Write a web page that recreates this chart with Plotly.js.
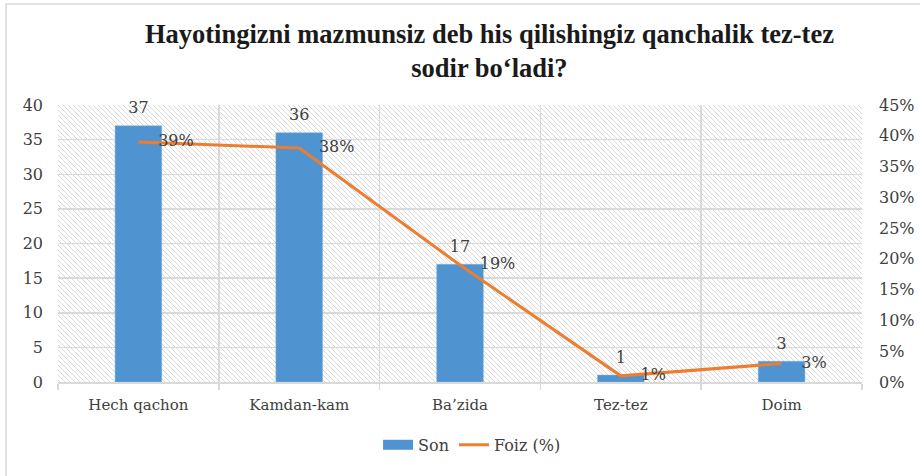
<!DOCTYPE html>
<html>
<head>
<meta charset="utf-8">
<script src="https://cdn.plot.ly/plotly-3.0.1.min.js"></script>
<style>
html,body{margin:0;padding:0;background:#fff;}
#chart{width:920px;height:476px;}
</style>
</head>
<body>
<div id="chart"></div>
<script>
const categories = ["Hech qachon", "Kamdan-kam", "Ba’zida", "Tez-tez", "Doim"];
const sonValues = [37, 36, 17, 1, 3];
const foizValues = [39, 38, 19, 1, 3];
const titleText = "Hayotingizni mazmunsiz deb his qilishingiz qanchalik tez-tez<br>sodir bo‘ladi?";

const plotW = 804, plotH = 277;
const hatchSvg = `<svg xmlns="http://www.w3.org/2000/svg" width="${plotW}" height="${plotH}">
<defs><pattern id="h" patternUnits="userSpaceOnUse" width="5" height="5">
<path d="M0,0 L5,5 M-1,4 L1,6 M4,-1 L6,1" stroke="#d6d6d6" stroke-width="0.9"/>
</pattern></defs>
<rect width="${plotW}" height="${plotH}" fill="#ffffff"/>
<rect width="${plotW}" height="${plotH}" fill="url(#h)"/>
</svg>`;
const hatchUri = "data:image/svg+xml;charset=utf-8," + encodeURIComponent(hatchSvg);

const fontFam = "DejaVu Serif, Liberation Serif, serif";
const barColor = "#4F94D0";
const lineColor = "#ED7D31";

const traces = [
  {
    type: "bar",
    name: "Son",
    x: categories,
    y: sonValues,
    width: 0.29,
    marker: {color: barColor, line: {color: "#7fb0dd", width: 0.5}},
    showlegend: false,
    yaxis: "y"
  },
  {
    type: "scatter",
    mode: "markers+text",
    name: "Son labels",
    x: categories,
    y: sonValues,
    marker: {size: 12, color: "rgba(0,0,0,0)"},
    text: sonValues.map(String),
    textposition: "top center",
    cliponaxis: false,
    textfont: {family: fontFam, size: 16, color: "#404040"},
    showlegend: false,
    hoverinfo: "skip",
    yaxis: "y"
  },
  {
    type: "scatter",
    mode: "lines",
    name: "Son",
    x: [categories[0]],
    y: [null],
    line: {color: barColor, width: 10},
    showlegend: true,
    yaxis: "y"
  },
  {
    type: "scatter",
    mode: "lines+markers+text",
    name: "Foiz (%)",
    x: categories,
    y: foizValues.map(v => v / 100),
    line: {color: lineColor, width: 3},
    marker: {size: 30, color: "rgba(0,0,0,0)"},
    text: foizValues.map(v => v + "%"),
    textposition: "middle right",
    cliponaxis: false,
    textfont: {family: fontFam, size: 16, color: "#404040"},
    yaxis: "y2"
  }
];

const layout = {
  width: 920,
  height: 476,
  margin: {l: 58, r: 58, t: 105, b: 94},
  paper_bgcolor: "#ffffff",
  plot_bgcolor: "rgba(0,0,0,0)",
  font: {family: fontFam, color: "#404040"},
  title: {
    text: titleText,
    font: {family: "Liberation Serif, serif", size: 26.5, color: "#1a1a1a", weight: "bold"},
    x: 0.532, xanchor: "center",
    y: 0.91, yanchor: "top", yref: "container"
  },
  xaxis: {
    type: "category",
    tickson: "boundaries",
    showgrid: true,
    gridcolor: "#d9d9d9",
    gridwidth: 1.5,
    showline: true,
    linecolor: "#d9d9d9",
    linewidth: 1.5,
    ticks: "outside",
    ticklen: 6,
    tickcolor: "#d9d9d9",
    tickwidth: 1.5,
    ticklabelstandoff: 8,
    tickfont: {family: fontFam, size: 15, color: "#404040"},
    zeroline: false,
    fixedrange: true
  },
  yaxis: {
    range: [0, 40],
    dtick: 5,
    showgrid: true,
    gridcolor: "#d9d9d9",
    gridwidth: 1.5,
    zeroline: false,
    showline: false,
    ticks: "",
    ticklabelstandoff: 14,
    tickfont: {family: fontFam, size: 16, color: "#404040"},
    fixedrange: true
  },
  yaxis2: {
    overlaying: "y",
    side: "right",
    range: [0, 0.45],
    dtick: 0.05,
    tickformat: ".0%",
    showgrid: false,
    zeroline: false,
    showline: false,
    ticks: "",
    ticklabelstandoff: 16,
    tickfont: {family: fontFam, size: 16, color: "#404040"},
    fixedrange: true
  },
  images: [{
    source: hatchUri,
    xref: "paper", yref: "paper",
    x: 0, y: 1, sizex: 1, sizey: 1,
    xanchor: "left", yanchor: "top",
    sizing: "stretch",
    layer: "below"
  }],
  shapes: [{
    type: "rect",
    xref: "paper", yref: "paper",
    x0: (6 - 58) / plotW, x1: 2,
    y0: -2, y1: (382 - 4) / plotH,
    line: {color: "#d9d9d9", width: 1.5},
    fillcolor: "rgba(0,0,0,0)",
    layer: "below"
  }],
  showlegend: true,
  legend: {
    orientation: "h",
    x: 0.515, xanchor: "center",
    y: -0.227, yanchor: "middle",
    font: {family: fontFam, size: 16, color: "#404040"},
    traceorder: "normal"
  }
};

Plotly.newPlot("chart", traces, layout, {displayModeBar: false, staticPlot: true});
</script>
</body>
</html>
